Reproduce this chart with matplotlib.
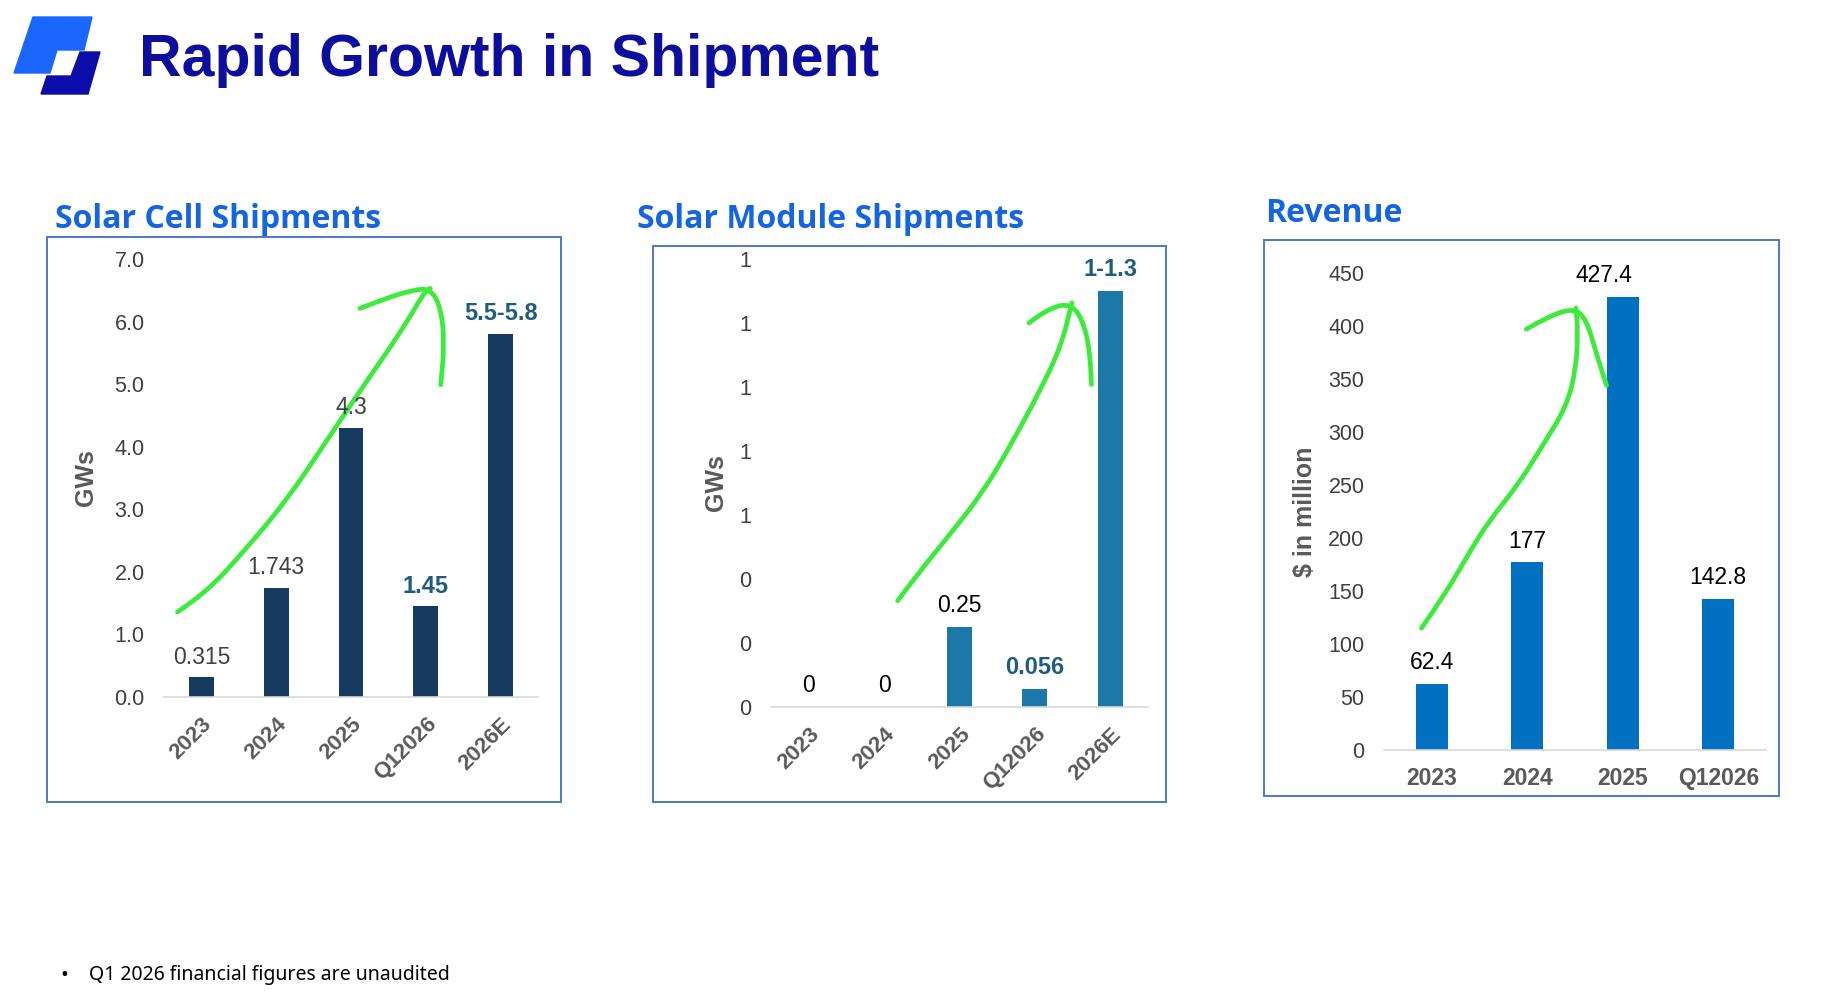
import numpy as np
import matplotlib
matplotlib.use('Agg')
import matplotlib.pyplot as plt
from matplotlib.patches import Polygon, Rectangle, PathPatch
from matplotlib.path import Path

# ---- data ----
cell_cats = ['2023', '2024', '2025', 'Q12026', '2026E']
cell_vals = [0.315, 1.743, 4.3, 1.45, 5.8]
cell_labels = ['0.315', '1.743', '4.3', '1.45', '5.5-5.8']
cell_ticks = [0, 1, 2, 3, 4, 5, 6, 7]
cell_ticklabels = ['0.0', '1.0', '2.0', '3.0', '4.0', '5.0', '6.0', '7.0']

mod_cats = ['2023', '2024', '2025', 'Q12026', '2026E']
mod_vals = [0, 0, 0.25, 0.056, 1.3]
mod_labels = ['0', '0', '0.25', '0.056', '1-1.3']
mod_ticks = [0, 0.2, 0.4, 0.6, 0.8, 1.0, 1.2, 1.4]
mod_ticklabels = ['0', '0', '0', '1', '1', '1', '1', '1']

rev_cats = ['2023', '2024', '2025', 'Q12026']
rev_vals = [62.4, 177, 427.4, 142.8]
rev_labels = ['62.4', '177', '427.4', '142.8']
rev_ticks = [0, 50, 100, 150, 200, 250, 300, 350, 400, 450]

# hand drawn green arrows (data coords of each panel)
cell_arrow = [(-0.32, 1.36), (0.05, 1.65), (0.60, 2.37), (1.15, 3.16), (1.66, 4.07),
              (2.21, 5.05), (2.67, 5.84), (2.99, 6.49), (3.06, 6.53)]
cell_head = [(2.12, 6.21), (2.44, 6.36), (2.81, 6.50), (3.06, 6.53),
             (3.2, 6.23), (3.25, 5.65), (3.2, 4.99)]
mod_arrow = [(1.18, 0.332), (1.42, 0.408), (1.84, 0.53), (2.31, 0.67), (2.69, 0.823),
             (3.07, 0.989), (3.35, 1.129), (3.49, 1.263)]
mod_head = [(2.92, 1.20), (3.16, 1.244), (3.49, 1.263),
            (3.66, 1.193), (3.73, 1.104), (3.75, 1.008)]
rev_arrow = [(-0.108, 115), (0.142, 147), (0.41, 189), (0.60, 216), (0.91, 251),
             (1.18, 290), (1.41, 324), (1.51, 359), (1.53, 394), (1.51, 417)]
rev_head = [(0.99, 397), (1.22, 409), (1.49, 417),
            (1.62, 406), (1.72, 375), (1.83, 344)]

NAVY = '#173b5f'
TEAL = '#1c78a8'
BLUE = '#0070c0'
LBL_TEAL = '#1f5c80'
GRAY = '#404040'
XGRAY = '#595959'
GREEN = '#3ceb3c'
BOX = '#4a78cc'
TITLE_BLUE = '#1565e0'

plt.rcParams['font.family'] = ['Liberation Sans', 'DejaVu Sans']

W, H = 1839, 999
fig = plt.figure(figsize=(W / 100, H / 100), dpi=100)
fig.patch.set_facecolor('white')


def px(x, y):
    return x / W, 1 - y / H


# logo
light = [px(33, 17), px(92, 17), px(84, 50), px(57, 50), px(50, 73), px(14, 73)]
dark = [px(80, 52), px(100, 52), px(88, 94), px(41, 94), px(47, 76), px(71, 76)]
fig.patches.append(Polygon(light, closed=True, transform=fig.transFigure, color='#1a66ff'))
fig.patches.append(Polygon(dark, closed=True, transform=fig.transFigure, color='#0c0ca8'))

fig.text(*px(139, 76), 'Rapid Growth in Shipment', fontsize=42.5, fontweight='bold',
         color='#0d0d9e', va='baseline', ha='left')

fig.text(*px(60, 975), '\u2022', fontsize=15, color='black', va='center', family='Noto Sans')
fig.text(*px(89, 975), 'Q1 2026 financial figures are unaudited', fontsize=14,
         color='black', va='center', family='Noto Sans')


def panel(box, title, title_xy):
    x0, y0, x1, y1 = box
    fig.patches.append(Rectangle(px(x0, y1), (x1 - x0) / W, (y1 - y0) / H,
                                 transform=fig.transFigure, fill=False,
                                 edgecolor=BOX, linewidth=1.4))
    fig.text(*px(*title_xy), title, fontsize=23, fontweight='bold', color=TITLE_BLUE,
             family='Open Sans', va='center', ha='left')


def style(ax):
    for s in ['top', 'right', 'left']:
        ax.spines[s].set_visible(False)
    ax.spines['bottom'].set_color('#d9d9d9')
    ax.spines['bottom'].set_linewidth(1.2)
    ax.tick_params(axis='both', length=0, labelsize=15.5, labelcolor=GRAY)
    ax.tick_params(axis='y', pad=14)


def smooth(ax, pts):
    # quadratic bezier through midpoints, for a hand drawn look
    verts = [pts[0]]
    codes = [Path.MOVETO]
    for i in range(1, len(pts) - 1):
        mid = ((pts[i][0] + pts[i + 1][0]) / 2, (pts[i][1] + pts[i + 1][1]) / 2)
        verts += [pts[i], mid]
        codes += [Path.CURVE3, Path.CURVE3]
    verts.append(pts[-1])
    codes.append(Path.LINETO)
    ax.add_patch(PathPatch(Path(verts, codes), fill=False, edgecolor=GREEN, lw=3.4,
                           capstyle='round', joinstyle='round', clip_on=False))


def arrow(ax, pts, head):
    smooth(ax, pts)
    smooth(ax, head)


# ---- panel 1: solar cells ----
panel((47, 237, 561, 802), 'Solar Cell Shipments', (55, 219))
ax1 = fig.add_axes([px(164, 0)[0], px(0, 697)[1], (538 - 164) / W, (697 - 259) / H])
x = np.arange(len(cell_cats))
ax1.bar(x, cell_vals, width=0.33, color=NAVY)
ax1.set_xlim(-0.5, 4.5)
ax1.set_ylim(0, 7)
ax1.set_yticks(cell_ticks, cell_ticklabels)
ax1.set_xticks(x, cell_cats, rotation=45, ha='right', rotation_mode='anchor',
               fontweight='bold', color=XGRAY)
style(ax1)
ax1.tick_params(axis='x', pad=12, labelcolor=XGRAY, labelsize=16)
ax1.set_ylabel('GWs', fontsize=18, fontweight='bold', color=XGRAY, labelpad=12)
for i, (v, t) in enumerate(zip(cell_vals, cell_labels)):
    bold = i >= 3
    ax1.text(i, v + 0.14, t, ha='center', va='bottom', fontsize=17 if bold else 16.5,
             fontweight='bold' if bold else 'normal', color=LBL_TEAL if bold else GRAY)
arrow(ax1, cell_arrow, cell_head)

# ---- panel 2: modules ----
panel((653, 246, 1166, 802), 'Solar Module Shipments', (637, 220))
ax2 = fig.add_axes([px(771, 0)[0], px(0, 707)[1], (1148 - 771) / W, (707 - 259) / H])
x = np.arange(len(mod_cats))
ax2.bar(x, mod_vals, width=0.33, color=TEAL)
ax2.set_xlim(-0.5, 4.5)
ax2.set_ylim(0, 1.4)
ax2.set_yticks(mod_ticks, mod_ticklabels)
ax2.set_xticks(x, mod_cats, rotation=45, ha='right', rotation_mode='anchor',
               fontweight='bold', color=XGRAY)
style(ax2)
ax2.tick_params(axis='x', pad=12, labelcolor=XGRAY, labelsize=16)
ax2.set_ylabel('GWs', fontsize=18, fontweight='bold', color=XGRAY, labelpad=8)
for i, (v, t) in enumerate(zip(mod_vals, mod_labels)):
    bold = i >= 3
    ax2.text(i, v + 0.03, t, ha='center', va='bottom', fontsize=17 if bold else 16.5,
             fontweight='bold' if bold else 'normal', color=LBL_TEAL if bold else 'black')
arrow(ax2, mod_arrow, mod_head)

# ---- panel 3: revenue ----
panel((1264, 240, 1779, 796), 'Revenue', (1265, 213))
ax3 = fig.add_axes([px(1384, 0)[0], px(0, 750)[1], (1766 - 1384) / W, (750 - 273) / H])
x = np.arange(len(rev_cats))
ax3.bar(x, rev_vals, width=0.33, color=BLUE)
ax3.set_xlim(-0.5, 3.5)
ax3.set_ylim(0, 450)
ax3.set_yticks(rev_ticks)
ax3.set_xticks(x, rev_cats, fontweight='bold', color=XGRAY)
style(ax3)
ax3.tick_params(axis='x', pad=12, labelcolor=XGRAY, labelsize=16.5)
ax3.set_ylabel('$ in million', fontsize=18, fontweight='bold', color=XGRAY, labelpad=8)
for i, (v, t) in enumerate(zip(rev_vals, rev_labels)):
    dx = -0.2 if i == 2 else 0
    ax3.text(i + dx, v + 9, t, ha='center', va='bottom', fontsize=16.5, color='black')
arrow(ax3, rev_arrow, rev_head)

fig.savefig('out.png', dpi=100)
